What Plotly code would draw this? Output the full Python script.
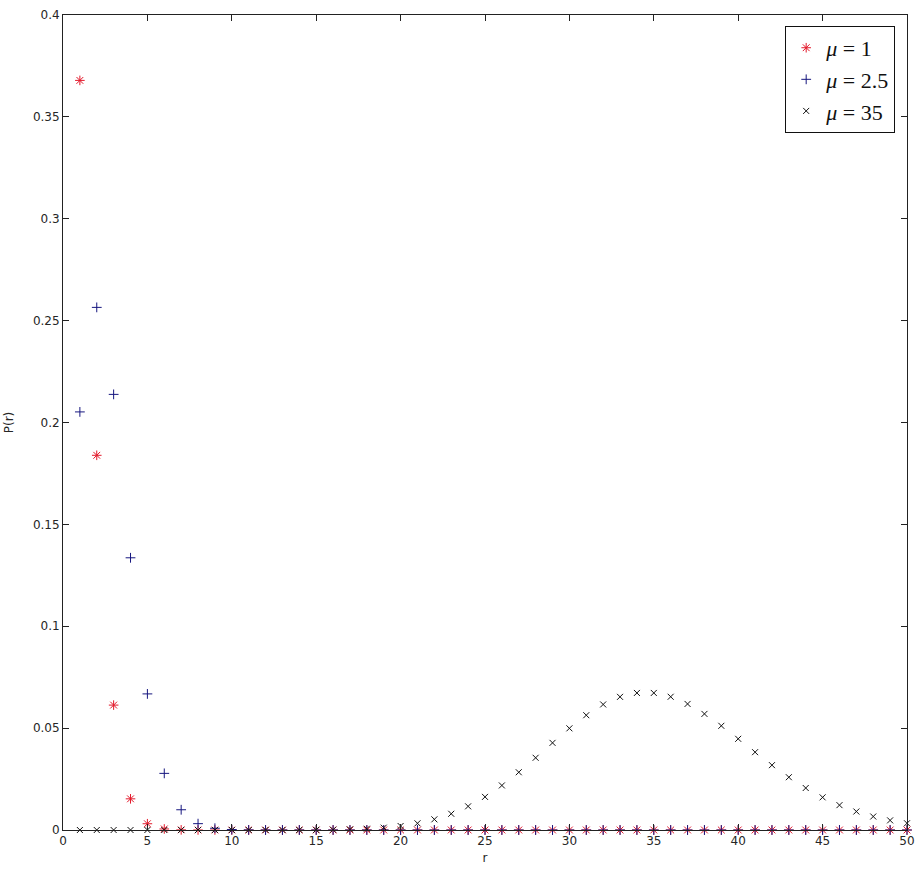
import plotly.graph_objects as go

r = list(range(1, 51))

p_mu1 = [0.3679, 0.1839, 0.0613, 0.0153, 0.00307, 0.000511, 0.000073, 0.0000091, 0.000001, 0.0000001] + [0.0] * 40

p_mu25 = [0.2052, 0.2565, 0.2138, 0.1336, 0.0668, 0.0278, 0.00994, 0.00311, 0.000863, 0.000216,
          0.000049, 0.00001] + [0.0] * 38

p_mu35 = [0.0] * 10 + [0.0000015, 0.0000045, 0.0000122, 0.00003, 0.00007,
          0.000153, 0.000315, 0.000613, 0.00113, 0.00197,
          0.00329, 0.00523, 0.00796, 0.01161, 0.01625,
          0.02187, 0.02835, 0.03544, 0.04277, 0.04990,
          0.05634, 0.06162, 0.06535, 0.06727, 0.06727,
          0.06540, 0.06187, 0.05698, 0.05114, 0.04475,
          0.03820, 0.03183, 0.02591, 0.02061, 0.01603,
          0.01220, 0.00908, 0.00662, 0.00473, 0.00331]

series_names = ["<i>μ</i> = 1", "<i>μ</i> = 2.5", "<i>μ</i> = 35"]
x_ticks = list(range(0, 51, 5))
y_ticks = [0, 0.05, 0.1, 0.15, 0.2, 0.25, 0.3, 0.35, 0.4]
y_tick_labels = ["0", "0.05", "0.1", "0.15", "0.2", "0.25", "0.3", "0.35", "0.4"]

fig = go.Figure()
fig.add_trace(go.Scatter(x=r, y=p_mu1, mode="markers", name=series_names[0], cliponaxis=False,
                         hoverinfo="skip",
                         marker=dict(symbol="asterisk-open", size=8, color="#e3192b",
                                     line=dict(width=1, color="#e3192b"))))
fig.add_trace(go.Scatter(x=r, y=p_mu25, mode="markers", name=series_names[1], cliponaxis=False,
                         hoverinfo="skip",
                         marker=dict(symbol="cross-thin-open", size=7, color="#16167f",
                                     line=dict(width=1, color="#16167f"))))
fig.add_trace(go.Scatter(x=r, y=p_mu35, mode="markers", name=series_names[2], cliponaxis=False,
                         hoverinfo="skip",
                         marker=dict(symbol="x-thin-open", size=6, color="#111111",
                                     line=dict(width=1, color="#111111"))))

axis_font = dict(family="DejaVu Sans", size=12, color="#262626")
fig.update_layout(
    width=923, height=875,
    margin=dict(l=63, r=8, t=11, b=45),
    paper_bgcolor="white", plot_bgcolor="white",
    showlegend=True,
    hovermode=False,
    legend=dict(x=0.986, y=0.9866, xanchor="right", yanchor="top",
                bgcolor="white", bordercolor="#111111", borderwidth=1,
                font=dict(family="Liberation Serif", size=22, color="#111111"),
                itemwidth=30, tracegroupgap=0),
    xaxis=dict(range=[0, 50], tickvals=x_ticks, ticks="inside", ticklen=6, tickcolor="#222222",
               showline=True, linecolor="#222222", linewidth=1, mirror="ticks",
               showgrid=False, zeroline=False, tickfont=axis_font,
               title=dict(text="r", font=axis_font, standoff=6)),
    yaxis=dict(range=[0, 0.4], tickvals=y_ticks, ticktext=y_tick_labels, ticks="inside", ticklen=6,
               tickcolor="#222222", showline=True, linecolor="#222222", linewidth=1, mirror="ticks",
               showgrid=False, zeroline=False, tickfont=axis_font,
               title=dict(text="P(r)", font=axis_font, standoff=16)),
)

fig.write_html(
    "out.html",
    config={"displayModeBar": False},
    post_script=(
        "document.body.style.margin='0';"
        "document.body.style.overflow='hidden';"
        "document.documentElement.style.overflow='hidden';"
    ),
)
